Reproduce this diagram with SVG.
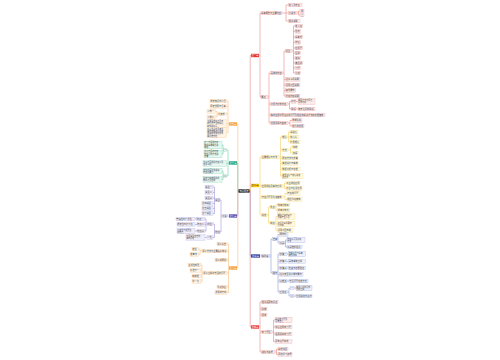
<svg xmlns="http://www.w3.org/2000/svg" width="500" height="360" viewBox="0 0 500 360">
<style>
.t{font-family:"Noto Sans CJK SC","Noto Sans",sans-serif;font-size:2.2px;fill:#444}
.t2{font-family:"Noto Sans CJK SC","Noto Sans",sans-serif;font-size:2px;fill:#444}
.tm{font-family:"Noto Sans CJK SC","Noto Sans",sans-serif;font-size:2.3px;fill:#fff;text-anchor:middle}
.dk{fill:#333}
rect{stroke-width:.3}
.br{fill:#fdecec;stroke:#ef9a9a}.by{fill:#fff9e0;stroke:#f3d36b}.bb{fill:#eef0fb;stroke:#9fa8da}
.bg{fill:#e6f7f0;stroke:#7fd3b4}.bp{fill:#efedf8;stroke:#b0a8dc}.bo{fill:#fff3e4;stroke:#f7c48a}
.mr{fill:#e53935}.my{fill:#f9c80e}.mb{fill:#3949ab}.mg{fill:#16a37f}.mp{fill:#5e4db2}.mo{fill:#f39c32}.mk{fill:#1c1c1c}
.l{fill:none;stroke-width:.5}
.lr{stroke:#e57373}.ly{stroke:#f0c94a}.lb{stroke:#7986cb}.lg{stroke:#4fc29a}.lp{stroke:#8d82cc}.lo{stroke:#f4b266}
</style>
<rect width="500" height="360" fill="#fff"/>
<g id="connectors">
<path class="l lr" d="M249.5 191H250.2V55.5H251M259 55.5H260V13H261M260 55.5V97H261M282 13H286V5H288.5M286 13H288.5M286 13V21H288.5M297 13H298.5V11H300M298.5 13V15H300M268 97H269V73H270.5M269 97V123H270.5M269 104H270.5M269 115H270.5M282.5 73H284V51H285.5M284 73V96H285.5M284 79.5H285.5M284 85H285.5M284 90.5H285.5M292 51H293.5V26H295M293.5 51V73H295M293.5 31.5H295M293.5 37H295M293.5 42.5H295M293.5 48H295M293.5 53H295M293.5 58H295M293.5 63H295M293.5 68H295M288 104H289.5V101.5H291M289.5 104V109H291M296 101.5H298M296 109H298M288 123H290V120.5H292M290 123V126H292"/>
<path class="l ly" d="M249.5 191H250.2V185.5H251M259 185.5H260V157H261.5M260 185.5V215H261.5M260 186H261.5M260 197H261.5M279 157H280.5V137H282M280.5 157V176H282M280.5 150H282M280.5 158H282M280.5 163.5H282M280.5 169H282M287 137H288.5V132H290M288.5 137V142H290M288.5 137H290M288 150H290.5V147H292.5M290.5 150V153H292.5M283 186H284.5V183H286M284.5 186V188.5H286M283 197H285V193.5H287M285 197V199.5H287M267 215H268.5V207H270M268.5 215V223H270M275 207H276V205H277.5M276 207V210.5H277.5M275 223H276V216.5H277.5M276 223V230.5H277.5M276 224H277.5"/>
<path class="l lb" d="M249.5 191H250.2V256H251M260 256H261.5M270 256H271V239H272.5M271 256V273H272.5M277.5 239H278V234.5H279.5M278 239V243H279.5M284.5 243H285.5V240H287M285.5 243V247H287M277.5 273H278V254H279.5M278 273V292H279.5M278 261.5H279.5M278 268H279.5M278 274.5H279.5M278 281H279.5M287 254H288.5M287 261.5H288.5M287 268H288.5M287 281H289M287 292H289V288H290.5M289 292V296H290.5M294 288H296M294 296H296"/>
<path class="l lr" d="M249.5 191H250.2V327H251M259 327H260V302H261.5M260 327V352H261.5M260 309H261.5M260 315H261.5M260 332H261.5M272 332H273.5V320H275M273.5 332V341.5H275M273.5 327H275M273.5 334H275M275 352H276.5V349H278M276.5 352V354.5H278"/>
<path class="l lo" d="M238.5 191H237.8V124H237M229 124H228V101H226.5M228 124V132.5H226.5M228 106.5H226.5M228 114H226.5M228 123.5H226.5M218 114H217V111.5H215.5M217 114V117H215.5"/>
<path class="l lg" d="M238.5 191H237.8V163H237M229 163H228V150H226.5M228 163V176H226.5M228 163.5H226.5M223.8 150H223V145H222M223 150V154H222M223.8 176H223V171H222M223 176V179.5H222"/>
<path class="l lp" d="M238.5 191H237.8V216H237M229 216H227.5M222 216H221V200H220M221 216V232H220M215 200H214.5V187H213M214.5 200V213.5H213M214.5 192.5H213M214.5 198H213M214.5 203.5H213M214.5 208.5H213M215 232H214.5V224H213M214.5 232V237.5H213M207 224H206V219H205M206 224V231H205M206 224.5H205M196.5 219H195M197 224.5H195M197 231H195M207 237.5H205"/>
<path class="l lo" d="M238.5 191H237.8V268H237M229 268H228.5V244H227M228.5 268V292.5H227M228.5 251H227M228.5 260H227M228.5 273H227M228.5 287H227M202 251H200V249H198.5M200 251V254.5H198.5M203 273H202V265H201M202 273V281.5H201M202 270.5H201M202 276H201"/>
</g>
<g id="root"><rect class="mk" x="238.5" y="189.3" width="11" height="3.4"/><text class="tm" x="244" y="191.8">知识框架</text></g>
<g id="R1"><rect class="mr" x="251" y="53.8" width="8" height="3.4"/><text class="tm" x="255" y="56.3">第一章</text></g>
<g id="a1"><rect class="br" x="261" y="11.3" width="21" height="3.4"/><text class="t" x="261.3" y="13.8">基本概念与主要内容</text></g>
<g id="a1a"><rect class="br" x="288.5" y="3.3" width="13.5" height="3.4"/><text class="t" x="288.8" y="5.8">定义及特点</text></g>
<g id="a1b"><rect class="br" x="288.5" y="11.3" width="8.5" height="3.4"/><text class="t" x="288.8" y="13.8">分类法</text></g>
<g id="a1b1"><rect class="br" x="300" y="9.3" width="4" height="3.4"/><text class="t" x="300.9" y="11.8">甲</text></g>
<g id="a1b2"><rect class="br" x="300" y="13.3" width="4" height="3.4"/><text class="t" x="300.9" y="15.8">乙</text></g>
<g id="a1c"><rect class="br" x="288.5" y="19.3" width="11.5" height="3.4"/><text class="t" x="288.8" y="21.8">相关说明</text></g>
<g id="c1"><rect class="br" x="261" y="95.3" width="7" height="3.4"/><text class="t" x="261.3" y="97.8">要点</text></g>
<g id="c1a"><rect class="br" x="270.5" y="71.3" width="12" height="3.4"/><text class="t" x="270.8" y="73.8">具体的内容</text></g>
<g id="c1b0"><rect class="br" x="285.5" y="49.3" width="6.5" height="3.4"/><text class="t" x="285.8" y="51.8">项目</text></g>
<g id="k1"><rect class="br" x="295" y="24.3" width="7.6" height="3.4"/><text class="t" x="295.3" y="26.8">定义域</text></g>
<g id="k2"><rect class="br" x="295" y="29.8" width="5.5" height="3.4"/><text class="t" x="295.3" y="32.3">性质</text></g>
<g id="k3"><rect class="br" x="295" y="35.3" width="7.6" height="3.4"/><text class="t" x="295.3" y="37.8">基本式</text></g>
<g id="k4"><rect class="br" x="295" y="40.8" width="5.5" height="3.4"/><text class="t" x="295.3" y="43.3">特征</text></g>
<g id="k5"><rect class="br" x="295" y="46.3" width="7.6" height="3.4"/><text class="t" x="295.3" y="48.8">应用题</text></g>
<g id="k6"><rect class="br" x="295" y="51.3" width="5.5" height="3.4"/><text class="t" x="295.3" y="53.8">图像</text></g>
<g id="k7"><rect class="br" x="295" y="56.3" width="5.5" height="3.4"/><text class="t" x="295.3" y="58.8">变换</text></g>
<g id="k8"><rect class="br" x="295" y="61.3" width="7.6" height="3.4"/><text class="t" x="295.3" y="63.8">典型例</text></g>
<g id="k9"><rect class="br" x="295" y="66.3" width="5.5" height="3.4"/><text class="t" x="295.3" y="68.8">习题</text></g>
<g id="k10"><rect class="br" x="295" y="71.3" width="5.5" height="3.4"/><text class="t" x="295.3" y="73.8">小结</text></g>
<g id="m1"><rect class="br" x="285.5" y="77.8" width="14.5" height="3.4"/><text class="t" x="285.8" y="80.3">注意事项说明</text></g>
<g id="m2"><rect class="br" x="285.5" y="83.3" width="14.5" height="3.4"/><text class="t" x="285.8" y="85.8">适用范围说明</text></g>
<g id="m3"><rect class="br" x="285.5" y="88.8" width="10" height="3.4"/><text class="t" x="285.8" y="91.3">其他要求</text></g>
<g id="m4"><rect class="br" x="285.5" y="94.3" width="14.5" height="3.4"/><text class="t" x="285.8" y="96.8">补充内容说明</text></g>
<g id="c1b"><rect class="br" x="270.5" y="102.3" width="17.5" height="3.4"/><text class="t" x="270.8" y="104.8">分析与比较内容</text></g>
<g id="c1b1"><rect class="br" x="291" y="99.8" width="5" height="3.4"/><text class="t" x="291.3" y="102.3">对比</text></g>
<g id="c1b1a"><rect class="br" x="298" y="98.8" width="17" height="5.4"/><text class="t2" x="298.3" y="101">相同点与不同点</text><text class="t2" x="298.3" y="103.4">具体分析</text></g>
<g id="c1b2"><rect class="br" x="291" y="107.3" width="5" height="3.4"/><text class="t" x="291.3" y="109.8">联系</text></g>
<g id="c1b2a"><rect class="br" x="298" y="107.3" width="17" height="3.4"/><text class="t" x="298.3" y="109.8">两者之间的联系</text></g>
<g id="c1c"><rect class="br" x="270.5" y="113.3" width="54.5" height="3.4"/><text class="t" x="270.8" y="115.8">实际应用中需注意的问题及相应的解决方法和处理措施</text></g>
<g id="c1d"><rect class="br" x="270.5" y="121.3" width="17.5" height="3.4"/><text class="t" x="270.8" y="123.8">发展历程与趋势</text></g>
<g id="c1d1"><rect class="br" x="292" y="118.8" width="10" height="3.4"/><text class="t" x="292.3" y="121.3">早期阶段</text></g>
<g id="c1d2"><rect class="br" x="292" y="124.3" width="12" height="3.4"/><text class="t" x="292.3" y="126.8">现代的发展</text></g>
<g id="Y"><rect class="my" x="251" y="183.8" width="8" height="3.4"/><text class="tm dk" x="255" y="186.3">第二章</text></g>
<g id="y1"><rect class="by" x="261.5" y="155.3" width="17.5" height="3.4"/><text class="t" x="261.8" y="157.8">主要理论与方法</text></g>
<g id="ya"><rect class="by" x="282" y="135.3" width="5" height="3.4"/><text class="t" x="282.3" y="137.8">理论</text></g>
<g id="ya1"><rect class="by" x="290" y="130.3" width="8" height="3.4"/><text class="t" x="290.3" y="132.8">基础论</text></g>
<g id="ya2"><rect class="by" x="290" y="135.3" width="9" height="3.4"/><text class="t" x="290.3" y="137.8">核心论</text></g>
<g id="ya3"><rect class="by" x="290" y="140.3" width="10" height="3.4"/><text class="t" x="290.3" y="142.8">扩展理论</text></g>
<g id="yb"><rect class="by" x="282" y="148.3" width="6" height="3.4"/><text class="t" x="282.3" y="150.8">方法</text></g>
<g id="yb1"><rect class="by" x="292.5" y="145.3" width="5.5" height="3.4"/><text class="t" x="292.8" y="147.8">归纳</text></g>
<g id="yb2"><rect class="by" x="292.5" y="151.3" width="5.5" height="3.4"/><text class="t" x="292.8" y="153.8">演绎</text></g>
<g id="y1c"><rect class="by" x="282" y="156.3" width="16" height="3.4"/><text class="t" x="282.3" y="158.8">研究方法与步骤</text></g>
<g id="y1d"><rect class="by" x="282" y="161.8" width="16" height="3.4"/><text class="t" x="282.3" y="164.3">实验设计与实施</text></g>
<g id="y1e"><rect class="by" x="282" y="167.3" width="18" height="3.4"/><text class="t" x="282.3" y="169.8">数据分析与处理</text></g>
<g id="y1f"><rect class="by" x="282" y="173.3" width="21" height="5.4"/><text class="t2" x="282.3" y="175.5">结果讨论与结论总结</text><text class="t2" x="282.3" y="177.9">及展望</text></g>
<g id="y2"><rect class="by" x="261.5" y="184.3" width="21.5" height="3.4"/><text class="t" x="261.8" y="186.8">应用领域及实际案例</text></g>
<g id="y2a"><rect class="by" x="286" y="181.3" width="14" height="3.4"/><text class="t" x="286.3" y="183.8">工业领域应用</text></g>
<g id="y2b"><rect class="by" x="286" y="186.8" width="16" height="3.4"/><text class="t" x="286.3" y="189.3">农业与生活应用</text></g>
<g id="y3"><rect class="by" x="261.5" y="195.3" width="21.5" height="3.4"/><text class="t" x="261.8" y="197.8">存在问题及改进措施</text></g>
<g id="y3a"><rect class="by" x="287" y="191.8" width="13" height="3.4"/><text class="t" x="287.3" y="194.3">存在的问题</text></g>
<g id="y3b"><rect class="by" x="287" y="197.8" width="15" height="3.4"/><text class="t" x="287.3" y="200.3">相应改进措施</text></g>
<g id="y4"><rect class="by" x="261.5" y="213.3" width="5.5" height="3.4"/><text class="t" x="261.8" y="215.8">总结</text></g>
<g id="yc"><rect class="by" x="270" y="205.3" width="5" height="3.4"/><text class="t" x="270.3" y="207.8">优点</text></g>
<g id="yc1"><rect class="by" x="277.5" y="203.3" width="12.5" height="3.4"/><text class="t" x="277.8" y="205.8">效率比较高</text></g>
<g id="yc2"><rect class="by" x="277.5" y="208.8" width="12.5" height="3.4"/><text class="t" x="277.8" y="211.3">成本比较低</text></g>
<g id="yd"><rect class="by" x="270" y="221.3" width="5" height="3.4"/><text class="t" x="270.3" y="223.8">缺点</text></g>
<g id="yd1"><rect class="by" x="277.5" y="213.8" width="17.5" height="5.4"/><text class="t2" x="277.8" y="216">操作过程较复杂</text><text class="t2" x="277.8" y="218.4">需要专业人员</text></g>
<g id="yd2"><rect class="by" x="277.5" y="221.3" width="17.5" height="5.4"/><text class="t2" x="277.8" y="223.5">对环境条件要求</text><text class="t2" x="277.8" y="225.9">比较高</text></g>
<g id="yd3"><rect class="by" x="277.5" y="228.8" width="15.5" height="3.4"/><text class="t" x="277.8" y="231.3">适用范围有限</text></g>
<g id="B"><rect class="mb" x="251" y="254.3" width="9" height="3.4"/><text class="tm" x="255.5" y="256.8">第三章</text></g>
<g id="bl"><rect class="bb" x="261.5" y="254.3" width="8.5" height="3.4"/><text class="t" x="261.8" y="256.8">实践篇</text></g>
<g id="bA"><rect class="bb" x="272.5" y="237.3" width="5" height="3.4"/><text class="t" x="272.8" y="239.8">准备</text></g>
<g id="bA1"><rect class="bb" x="279.5" y="232.8" width="8.5" height="3.4"/><text class="t" x="279.8" y="235.3">原材料</text></g>
<g id="bA2"><rect class="bb" x="279.5" y="241.3" width="5" height="3.4"/><text class="t" x="279.8" y="243.8">工具</text></g>
<g id="bA2a"><rect class="bb" x="287" y="237.3" width="18" height="5.4"/><text class="t2" x="287.3" y="239.5">常用工具及使用</text><text class="t2" x="287.3" y="241.9">方法</text></g>
<g id="bA2b"><rect class="bb" x="287" y="245.3" width="15" height="3.4"/><text class="t" x="287.3" y="247.8">工具维护保养</text></g>
<g id="bB"><rect class="bb" x="272.5" y="271.3" width="5" height="3.4"/><text class="t" x="272.8" y="273.8">操作</text></g>
<g id="s1"><rect class="bb" x="279.5" y="252.3" width="7.5" height="3.4"/><text class="t" x="279.8" y="254.8">步骤一</text></g>
<g id="s1a"><rect class="bb" x="288.5" y="251.3" width="17" height="5.4"/><text class="t2" x="288.8" y="253.5">准备工作与基本</text><text class="t2" x="288.8" y="255.9">操作流程</text></g>
<g id="s2"><rect class="bb" x="279.5" y="259.8" width="7.5" height="3.4"/><text class="t" x="279.8" y="262.3">步骤二</text></g>
<g id="s2a"><rect class="bb" x="288.5" y="259.8" width="17" height="3.4"/><text class="t" x="288.8" y="262.3">具体实施过程</text></g>
<g id="s3"><rect class="bb" x="279.5" y="266.3" width="7.5" height="3.4"/><text class="t" x="279.8" y="268.8">步骤三</text></g>
<g id="s3a"><rect class="bb" x="288.5" y="266.3" width="17" height="3.4"/><text class="t" x="288.8" y="268.8">检查与结果验证</text></g>
<g id="s4"><rect class="bb" x="279.5" y="272.8" width="23.5" height="3.4"/><text class="t" x="279.8" y="275.3">注意安全规范操作要求</text></g>
<g id="s5"><rect class="bb" x="279.5" y="279.3" width="7.5" height="3.4"/><text class="t" x="279.8" y="281.8">疑难点</text></g>
<g id="s5a"><rect class="bb" x="289" y="279.3" width="19" height="3.4"/><text class="t" x="289.3" y="281.8">常见问题处理方法</text></g>
<g id="s6"><rect class="bb" x="279.5" y="290.3" width="7.5" height="3.4"/><text class="t" x="279.8" y="292.8">案例集</text></g>
<g id="s6a"><rect class="bb" x="290.5" y="286.3" width="3.5" height="3.4"/><text class="t" x="291.1" y="288.8">一</text></g>
<g id="s6a1"><rect class="bb" x="296" y="285.3" width="16" height="5.4"/><text class="t2" x="296.3" y="287.5">典型案例的具体</text><text class="t2" x="296.3" y="289.9">分析过程</text></g>
<g id="s6b"><rect class="bb" x="290.5" y="294.3" width="3.5" height="3.4"/><text class="t" x="291.1" y="296.8">二</text></g>
<g id="s6b1"><rect class="bb" x="296" y="294.3" width="16" height="3.4"/><text class="t" x="296.3" y="296.8">案例总结与启示</text></g>
<g id="R2"><rect class="mr" x="251" y="325.3" width="8" height="3.4"/><text class="tm" x="255" y="327.8">第四章</text></g>
<g id="r1"><rect class="br" x="261.5" y="300.3" width="16.5" height="3.4"/><text class="t" x="261.8" y="302.8">相关拓展知识点</text></g>
<g id="r2"><rect class="br" x="261.5" y="307.3" width="5.5" height="3.4"/><text class="t" x="261.8" y="309.8">延伸</text></g>
<g id="r3"><rect class="br" x="261.5" y="313.3" width="5.5" height="3.4"/><text class="t" x="261.8" y="315.8">思考</text></g>
<g id="r4"><rect class="br" x="261.5" y="330.3" width="10.5" height="3.4"/><text class="t" x="261.8" y="332.8">练习题目</text></g>
<g id="r4a"><rect class="br" x="275" y="317.3" width="17" height="5.4"/><text class="t2" x="275.3" y="319.5">基础练习题及</text><text class="t2" x="275.3" y="321.9">参考答案</text></g>
<g id="r4b"><rect class="br" x="275" y="325.3" width="17" height="3.4"/><text class="t" x="275.3" y="327.8">综合应用练习题</text></g>
<g id="r4c"><rect class="br" x="275" y="332.3" width="17" height="3.4"/><text class="t" x="275.3" y="334.8">拓展提高练习题</text></g>
<g id="r4d"><rect class="br" x="275" y="339.8" width="17" height="3.4"/><text class="t" x="275.3" y="342.3">历年真题精选</text></g>
<g id="r5"><rect class="br" x="261.5" y="350.3" width="13.5" height="3.4"/><text class="t" x="261.8" y="352.8">资料与来源</text></g>
<g id="r5a"><rect class="br" x="278" y="347.3" width="10" height="3.4"/><text class="t" x="278.3" y="349.8">教材书目</text></g>
<g id="r5b"><rect class="br" x="278" y="352.8" width="14" height="3.4"/><text class="t" x="278.3" y="355.3">网络学习资源</text></g>
<g id="O1"><rect class="mo" x="229" y="122.3" width="8" height="3.4"/><text class="tm" x="233" y="124.8">第五章</text></g>
<g id="o1"><rect class="bo" x="210" y="99.3" width="16.5" height="3.4"/><text class="t" x="210.3" y="101.8">背景知识与介绍</text></g>
<g id="o2"><rect class="bo" x="210" y="104.8" width="16.5" height="3.4"/><text class="t" x="210.3" y="107.3">历史发展与沿革</text></g>
<g id="o3"><rect class="bo" x="218" y="112.3" width="8.5" height="3.4"/><text class="t" x="218.3" y="114.8">代表者</text></g>
<g id="o3a"><rect class="bo" x="207" y="109.8" width="8.5" height="3.4"/><text class="t" x="207.3" y="112.3">人物一</text></g>
<g id="o3b"><rect class="bo" x="207" y="115.3" width="8.5" height="3.4"/><text class="t" x="207.3" y="117.8">人物二</text></g>
<g id="o4"><rect class="bo" x="207" y="119.7" width="19.5" height="7.6"/><text class="t2" x="207.3" y="121.8">主要思想观点及其</text><text class="t2" x="207.3" y="124.2">对后世产生的深远</text><text class="t2" x="207.3" y="126.6">影响和意义</text></g>
<g id="o5"><rect class="bo" x="207" y="127.5" width="19.5" height="10"/><text class="t2" x="207.3" y="129.6">代表性著作及其主</text><text class="t2" x="207.3" y="132">要内容概述以及在</text><text class="t2" x="207.3" y="134.4">该领域中所处的重</text><text class="t2" x="207.3" y="136.8">要历史地位</text></g>
<g id="G"><rect class="mg" x="229" y="161.3" width="8" height="3.4"/><text class="tm" x="233" y="163.8">第六章</text></g>
<g id="g1"><rect class="bg" x="223.8" y="148.3" width="2.7" height="3.4"/><text class="t" x="224" y="150.8">一</text></g>
<g id="g1a"><rect class="bg" x="204" y="141.2" width="18" height="7.6"/><text class="t2" x="204.3" y="143.3">第一方面的内容</text><text class="t2" x="204.3" y="145.7">包括基本概念和</text><text class="t2" x="204.3" y="148.1">原理</text></g>
<g id="g1b"><rect class="bg" x="204" y="150.2" width="18" height="7.6"/><text class="t2" x="204.3" y="152.3">第二方面的内容</text><text class="t2" x="204.3" y="154.7">包括具体方法和</text><text class="t2" x="204.3" y="157.1">步骤</text></g>
<g id="g3"><rect class="bg" x="203" y="160.8" width="23.5" height="5.4"/><text class="t2" x="203.3" y="163">第三方面相关内容以及</text><text class="t2" x="203.3" y="165.4">注意事项</text></g>
<g id="g2"><rect class="bg" x="223.8" y="174.3" width="2.7" height="3.4"/><text class="t" x="224" y="176.8">二</text></g>
<g id="g2a"><rect class="bg" x="203" y="168.3" width="19" height="5.4"/><text class="t2" x="203.3" y="170.5">其他方面补充说明</text><text class="t2" x="203.3" y="172.9">内容及要点</text></g>
<g id="g2b"><rect class="bg" x="203" y="176.8" width="19" height="5.4"/><text class="t2" x="203.3" y="179">总结与归纳相关的</text><text class="t2" x="203.3" y="181.4">知识点及应用</text></g>
<g id="P"><rect class="mp" x="229" y="214.3" width="8" height="3.4"/><text class="tm" x="233" y="216.8">第七章</text></g>
<g id="pl"><rect class="bp" x="222" y="214.3" width="5.5" height="3.4"/><text class="t" x="222.3" y="216.8">分类</text></g>
<g id="p1"><rect class="bp" x="215" y="198.3" width="5" height="3.4"/><text class="t" x="215.3" y="200.8">类型</text></g>
<g id="p1a"><rect class="bp" x="205" y="185.3" width="8" height="3.4"/><text class="t" x="205.3" y="187.8">类型一</text></g>
<g id="p1b"><rect class="bp" x="205" y="190.8" width="8" height="3.4"/><text class="t" x="205.3" y="193.3">类型二</text></g>
<g id="p1c"><rect class="bp" x="205" y="196.3" width="8" height="3.4"/><text class="t" x="205.3" y="198.8">类型三</text></g>
<g id="p1d"><rect class="bp" x="202" y="201.8" width="11" height="3.4"/><text class="t" x="202.3" y="204.3">第四类型</text></g>
<g id="p1e"><rect class="bp" x="202" y="206.8" width="11" height="3.4"/><text class="t" x="202.3" y="209.3">第五类型</text></g>
<g id="p1f"><rect class="bp" x="202" y="211.8" width="11" height="3.4"/><text class="t" x="202.3" y="214.3">第六类型</text></g>
<g id="p2"><rect class="bp" x="215" y="230.3" width="5" height="3.4"/><text class="t" x="215.3" y="232.8">特点</text></g>
<g id="p21"><rect class="bp" x="207" y="222.3" width="6" height="3.4"/><text class="t" x="207.3" y="224.8">共性</text></g>
<g id="p21a"><rect class="bp" x="196.5" y="217.3" width="8.5" height="3.4"/><text class="t" x="196.8" y="219.8">特点一</text></g>
<g id="p21a1"><rect class="bp" x="176" y="217.3" width="19" height="3.4"/><text class="t" x="176.3" y="219.8">普遍性与广泛性</text></g>
<g id="p21b"><rect class="bp" x="197" y="222.8" width="8" height="3.4"/><text class="t" x="197.3" y="225.3">特点二</text></g>
<g id="p21b1"><rect class="bp" x="177" y="222.8" width="18" height="3.4"/><text class="t" x="177.3" y="225.3">稳定性与持久性</text></g>
<g id="p21c"><rect class="bp" x="197" y="229.3" width="8" height="3.4"/><text class="t" x="197.3" y="231.8">特点三</text></g>
<g id="p21c1"><rect class="bp" x="177" y="228.3" width="18" height="5.4"/><text class="t2" x="177.3" y="230.5">可变性与发展性</text><text class="t2" x="177.3" y="232.9">的特点</text></g>
<g id="p22"><rect class="bp" x="207" y="235.8" width="6" height="3.4"/><text class="t" x="207.3" y="238.3">个性</text></g>
<g id="p22a"><rect class="bp" x="186" y="234.8" width="19" height="5.4"/><text class="t2" x="186.3" y="237">不同类型各自的</text><text class="t2" x="186.3" y="239.4">独特之处</text></g>
<g id="O2"><rect class="mo" x="229" y="266.3" width="8" height="3.4"/><text class="tm" x="233" y="268.8">第八章</text></g>
<g id="q1"><rect class="bo" x="217" y="242.3" width="10" height="3.4"/><text class="t" x="217.3" y="244.8">评价标准</text></g>
<g id="q2"><rect class="bo" x="202" y="249.3" width="25" height="3.4"/><text class="t" x="202.3" y="251.8">评价方法与主要指标体系</text></g>
<g id="q2a"><rect class="bo" x="192" y="247.3" width="6.5" height="3.4"/><text class="t" x="192.3" y="249.8">定性</text></g>
<g id="q2b"><rect class="bo" x="190" y="252.8" width="8.5" height="3.4"/><text class="t" x="190.3" y="255.3">定量法</text></g>
<g id="q3"><rect class="bo" x="215" y="258.3" width="12" height="3.4"/><text class="t" x="215.3" y="260.8">评价的原则</text></g>
<g id="q4"><rect class="bo" x="203" y="271.3" width="24" height="3.4"/><text class="t" x="203.3" y="273.8">评价过程中常见的问题</text></g>
<g id="q4a"><rect class="bo" x="188" y="263.3" width="13" height="3.4"/><text class="t" x="188.3" y="265.8">主观性较强</text></g>
<g id="q4b"><rect class="bo" x="190" y="268.8" width="11" height="3.4"/><text class="t" x="190.3" y="271.3">标准不一</text></g>
<g id="q4c"><rect class="bo" x="192" y="274.3" width="9" height="3.4"/><text class="t" x="192.3" y="276.8">缺数据</text></g>
<g id="q4d"><rect class="bo" x="192" y="279.8" width="9" height="3.4"/><text class="t" x="192.3" y="282.3">单一化</text></g>
<g id="q5"><rect class="bo" x="217" y="285.3" width="10" height="3.4"/><text class="t" x="217.3" y="287.8">改进建议</text></g>
<g id="q6"><rect class="bo" x="215" y="290.8" width="12" height="3.4"/><text class="t" x="215.3" y="293.3">发展的方向</text></g>
</svg>
